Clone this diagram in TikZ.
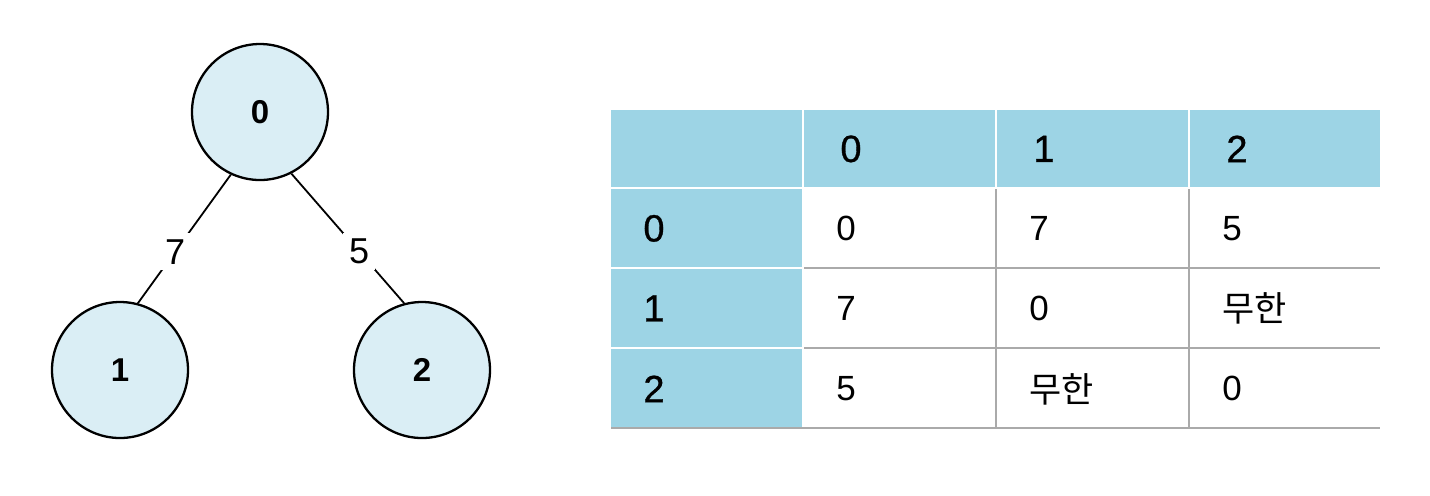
\documentclass[tikz,border=0pt]{standalone}
\usepackage{fontspec}
\setmainfont{Liberation Sans}
\newfontfamily\hdfont[FakeBold=0.8]{Liberation Sans}
\newfontfamily\kr{Noto Sans CJK KR}
\definecolor{nodefill}{HTML}{DAEEF5}
\definecolor{headfill}{HTML}{9DD4E5}
\definecolor{gridgray}{HTML}{AAAAAA}
\tikzset{
  vert/.style={circle, draw=black, line width=1.15pt, fill=nodefill, minimum size=68pt, inner sep=0pt, font=\fontsize{16.5}{18}\selectfont\bfseries},
  edgelab/.style={fill=white, inner sep=3pt, font=\fontsize{18}{20}\selectfont},
  edgeline/.style={line width=0.9pt},
  headcell/.style={fill=headfill, draw=none, anchor=north west, inner sep=0pt},
  datacell/.style={draw=none, anchor=north west, inner sep=0pt},
  celltxt/.style={anchor=west, inner sep=0pt},
  htxt/.style={celltxt, font=\hdfont\fontsize{19}{22}\selectfont},
  dtxt/.style={celltxt, font=\fontsize{17.5}{20}\selectfont},
  grid/.style={draw=gridgray, line width=1pt}
}
\begin{document}
\begin{tikzpicture}[x=0.5pt, y=-0.5pt]
\useasboundingbox (0,0) rectangle (1430,495);
% graph
\node[vert] (n0) at (260,112) {0};
\node[vert] (n1) at (120,370) {1};
\node[vert] (n2) at (422,370) {2};
\draw[edgeline] (n0.245) -- node[edgelab, pos=0.6] {7} (n1.75);
\draw[edgeline] (n0.297) -- node[edgelab, pos=0.6] {5} (n2.105);
% table: blue cells
\node[headcell, minimum width=95.5pt, minimum height=38.5pt] (h0) at (611,110) {};
\node[headcell, minimum width=95.5pt, minimum height=38.5pt] (h1) at (804,110) {};
\node[headcell, minimum width=95.5pt, minimum height=38.5pt] (h2) at (997,110) {};
\node[headcell, minimum width=95pt, minimum height=38.5pt] (h3) at (1190,110) {};
\node[headcell, minimum width=95.5pt, minimum height=39pt] (r0) at (611,189) {};
\node[headcell, minimum width=95.5pt, minimum height=39pt] (r1) at (611,269) {};
\node[headcell, minimum width=95.5pt, minimum height=39.5pt] (r2) at (611,349) {};
% header texts
\node[htxt] at ([xshift=18pt]h1.west) {0};
\node[htxt] at ([xshift=18pt]h2.west) {1};
\node[htxt] at ([xshift=18pt]h3.west) {2};
\node[htxt] at ([xshift=16pt]r0.west) {0};
\node[htxt] at ([xshift=16pt]r1.west) {1};
\node[htxt] at ([xshift=16pt]r2.west) {2};
% data cells
\foreach \c/\x in {1/804,2/997,3/1190}{
  \node[datacell, minimum width=95pt, minimum height=39pt] (d0\c) at (\x,189) {};
  \node[datacell, minimum width=95pt, minimum height=39pt] (d1\c) at (\x,269) {};
  \node[datacell, minimum width=95pt, minimum height=39.5pt] (d2\c) at (\x,349) {};
}
\node[dtxt] at ([xshift=16pt]d01.west) {0};
\node[dtxt] at ([xshift=16pt]d02.west) {7};
\node[dtxt] at ([xshift=16pt]d03.west) {5};
\node[dtxt] at ([xshift=16pt]d11.west) {7};
\node[dtxt] at ([xshift=16pt]d12.west) {0};
\node[dtxt] at ([xshift=16pt]d13.west) {\kr 무한};
\node[dtxt] at ([xshift=16pt]d21.west) {5};
\node[dtxt] at ([xshift=16pt]d22.west) {\kr 무한};
\node[dtxt] at ([xshift=16pt]d23.west) {0};
% grid lines
\coordinate (hl1a) at (804,268); \coordinate (hl1b) at (1380,268);
\coordinate (hl2a) at (804,348); \coordinate (hl2b) at (1380,348);
\coordinate (hl3a) at (611,428); \coordinate (hl3b) at (1380,428);
\coordinate (vl1a) at (996,189); \coordinate (vl1b) at (996,428);
\coordinate (vl2a) at (1189,189); \coordinate (vl2b) at (1189,428);
\draw[grid] (hl1a) -- (hl1b);
\draw[grid] (hl2a) -- (hl2b);
\draw[grid] (hl3a) -- (hl3b);
\draw[grid] (vl1a) -- (vl1b);
\draw[grid] (vl2a) -- (vl2b);
\end{tikzpicture}
\end{document}
